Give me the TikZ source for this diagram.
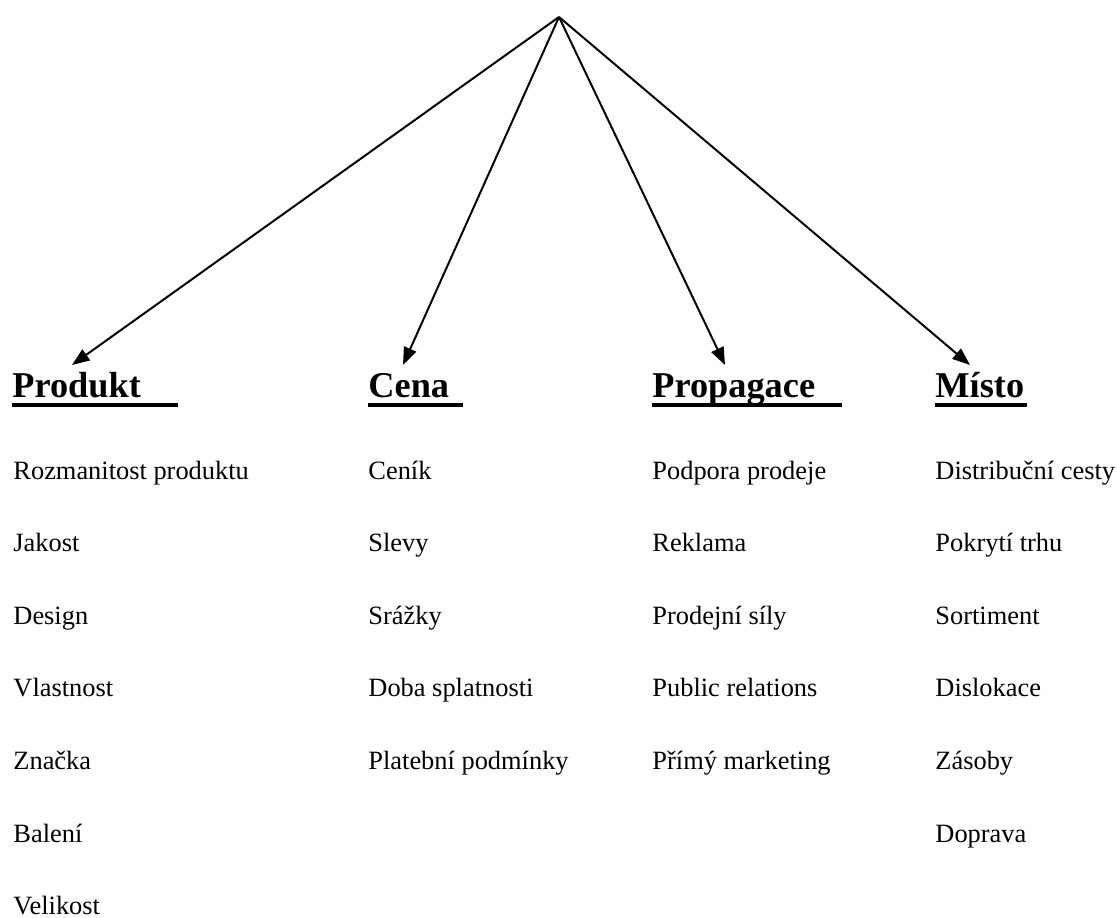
\documentclass[tikz,border=0pt]{standalone}
\usepackage{fontspec}
\setmainfont{Liberation Serif}
\usetikzlibrary{positioning, arrows.meta}
\tikzset{
  head/.style={
    inner sep=0pt, anchor=base west,
    font=\fontsize{16.5}{19}\selectfont\bfseries
  },
  item/.style={
    inner sep=0pt, anchor=base west,
    font=\fontsize{12}{14}\selectfont
  },
  signal/.style={-{Triangle[length=8pt, width=6pt]}, line width=0.9pt, black},
  underln/.style={line width=1.4pt, black}
}

\begin{document}
\begin{tikzpicture}[x=0.4545pt, y=-0.4545pt]
\useasboundingbox (0,0) rectangle (1117,918);

% Vrchol a konce sipek
\coordinate (top) at (559,17);
\coordinate (prodtip) at (72,365);
\coordinate (cenatip) at (403,365);
\coordinate (proptip) at (725,365);
\coordinate (mistotip) at (970,365);

% Nadpisy
\node[head] (prod) at (12,397) {Produkt};
\node[head] (cena) at (368,397) {Cena};
\node[head] (prop) at (652,397) {Propagace};
\node[head] (misto) at (935,397) {Místo};

% Podtrzeni (i s mezerami za slovem)
\draw[underln] (prod.base west) ++(0,8) -- (178,405);
\draw[underln] (cena.base west) ++(0,8) -- (463,405);
\draw[underln] (prop.base west) ++(0,8) -- (842,405);
\draw[underln] (misto.base west) ++(0,8) -- (1027,405);

% Sipky z vrcholu
\draw[signal] (top) -- (prodtip);
\draw[signal] (top) -- (cenatip);
\draw[signal] (top) -- (proptip);
\draw[signal] (top) -- (mistotip);

% Produkt
\node[item] (prod1) at (13,479) {Rozmanitost produktu};
\node[item] (prod2) at (13,551.6) {Jakost};
\node[item] (prod3) at (13,624.2) {Design};
\node[item] (prod4) at (13,696.8) {Vlastnost};
\node[item] (prod5) at (13,769.4) {Značka};
\node[item] (prod6) at (13,842) {Balení};
\node[item] (prod7) at (13,914.6) {Velikost};

% Cena
\node[item] (cena1) at (368,479) {Ceník};
\node[item] (cena2) at (368,551.6) {Slevy};
\node[item] (cena3) at (368,624.2) {Srážky};
\node[item] (cena4) at (368,696.8) {Doba splatnosti};
\node[item] (cena5) at (368,769.4) {Platební podmínky};

% Propagace
\node[item] (prop1) at (652,479) {Podpora prodeje};
\node[item] (prop2) at (652,551.6) {Reklama};
\node[item] (prop3) at (652,624.2) {Prodejní síly};
\node[item] (prop4) at (652,696.8) {Public relations};
\node[item] (prop5) at (652,769.4) {Přímý marketing};

% Misto
\node[item] (misto1) at (935,479) {Distribuční cesty};
\node[item] (misto2) at (935,551.6) {Pokrytí trhu};
\node[item] (misto3) at (935,624.2) {Sortiment};
\node[item] (misto4) at (935,696.8) {Dislokace};
\node[item] (misto5) at (935,769.4) {Zásoby};
\node[item] (misto6) at (935,842) {Doprava};

\end{tikzpicture}
\end{document}
